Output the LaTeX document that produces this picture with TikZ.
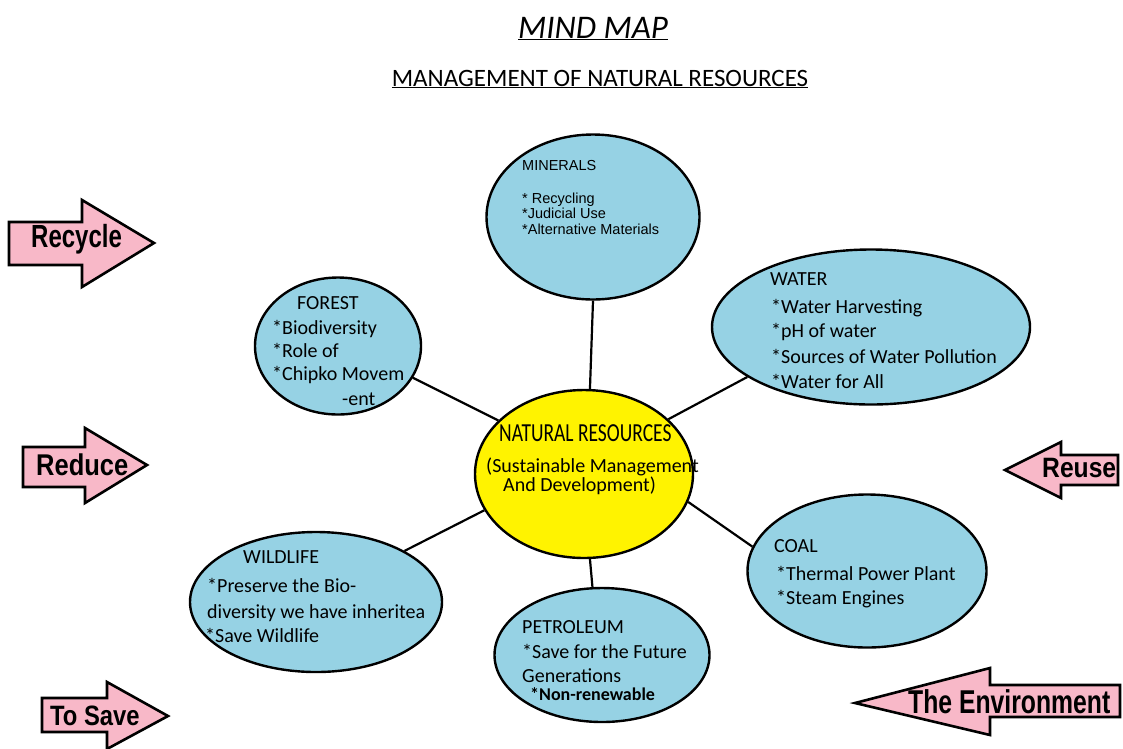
\documentclass[tikz,border=0pt]{standalone}
\usepackage{fontspec}
\setmainfont{Carlito}
\newfontfamily\arialf{Liberation Sans}
\usetikzlibrary{shapes.geometric}
\definecolor{blobblue}{RGB}{150,210,228}
\definecolor{natyellow}{RGB}{255,243,0}
\definecolor{arrpink}{RGB}{248,184,200}
\newcommand{\arrtxt}[3]{\arialf\bfseries\fontsize{#1}{#1}\selectfont\scalebox{#2}[1]{#3}}
\tikzset{
 blob/.style={ellipse, draw=black, line width=2.4pt, fill=blobblue, inner sep=0pt},
 core/.style={blob, fill=natyellow},
 conn/.style={line width=2.2pt, draw=black},
 lbl/.style={anchor=base west, inner sep=0pt, font=\fontsize{20}{24}\selectfont},
 minlbl/.style={anchor=base west, inner sep=0pt, font=\arialf\fontsize{14.5}{17}\selectfont},
 arrshape/.style={draw=black, line width=2.6pt, fill=arrpink, line join=miter},
 arrlbl/.style={anchor=base west, inner sep=0pt},
}
\begin{document}
\begin{tikzpicture}[x=1pt,y=-1pt]
\useasboundingbox (0,0) rectangle (1123,748);
\fill[white] (0,0) rectangle (1123,748);

% titles
\node[anchor=base, inner sep=0pt, font=\itshape\fontsize{33}{36}\selectfont] (title) at (593,38) {\underline{MIND MAP}};
\node[anchor=base, inner sep=0pt, font=\fontsize{25}{28}\selectfont] (subtitle) at (600,86) {\underline{MANAGEMENT OF NATURAL RESOURCES}};

% ellipses
\node[blob, minimum width=213pt, minimum height=165pt] (min) at (593,217) {};
\node[blob, minimum width=318pt, minimum height=155pt] (wat) at (871,327) {};
\node[blob, minimum width=166pt, minimum height=137pt] (for) at (338,346) {};
\node[core, minimum width=218pt, minimum height=168pt] (nat) at (584,474) {};
\node[blob, minimum width=239pt, minimum height=153pt] (coal) at (867,571) {};
\node[blob, minimum width=252pt, minimum height=140pt] (wild) at (316,602) {};
\node[blob, minimum width=215pt, minimum height=134pt] (pet) at (602,655) {};

% connectors
\draw[conn] (nat.86) -- (min.-90);
\draw[conn] (nat.33) -- (wat.-158);
\draw[conn] (nat.148) -- (for.-23);
\draw[conn] (nat.-15) -- (coal.168);
\draw[conn] (nat.-160) -- (wild.30);
\draw[conn] (nat.-86) -- (pet.98);

% minerals text
\node[minlbl] (m1) at (522,170) {MINERALS};
\node[minlbl] (m2) at (522,203) {* Recycling};
\node[minlbl] (m3) at (522,218) {*Judicial Use};
\node[minlbl] (m4) at (522,234) {*Alternative Materials};

% water text
\node[lbl] (w1) at (770,285) {WATER};
\node[lbl] (w2) at (771,313) {*Water Harvesting};
\node[lbl] (w3) at (771,337) {*pH of water};
\node[lbl] (w4) at (771,363) {*Sources of Water Pollution};
\node[lbl] (w5) at (771,388) {*Water for All};

% forest text
\node[lbl] (f1) at (297,309) {FOREST};
\node[lbl] (f2) at (272,334) {*Biodiversity};
\node[lbl] (f3) at (272,357) {*Role of};
\node[lbl] (f4) at (272,380) {*Chipko Movem};
\node[lbl] (f5) at (342,405) {-ent};

% natural resources text
\node[anchor=base west, inner sep=0pt, font=\fontsize{26}{28}\selectfont] (n1) at (499,441) {\scalebox{0.75}[1]{NATURAL RESOURCES}};
\node[lbl] (n2) at (486,472) {(Sustainable Management};
\node[lbl] (n3) at (503,491) {And Development)};

% coal text
\node[lbl] (c1) at (774,552) {COAL};
\node[lbl] (c2) at (776,580) {*Thermal Power Plant};
\node[lbl] (c3) at (776,604) {*Steam Engines};

% wildlife text
\node[lbl] (l1) at (243,563) {WILDLIFE};
\node[lbl] (l2) at (207,592) {*Preserve the Bio-};
\node[lbl] (l3) at (207,618) {diversity we have inheritea};
\node[lbl] (l4) at (205,642) {*Save Wildlife};

% petroleum text
\node[lbl] (p1) at (522,633) {PETROLEUM};
\node[lbl] (p2) at (522,658) {*Save for the Future};
\node[lbl] (p3) at (522,682) {Generations};
\node[lbl, font=\bfseries\fontsize{18}{20}\selectfont] (p4) at (530,700) {*Non-renewable};

% block arrows
\draw[arrshape] (9,222) -- (82,222) -- (82,200) -- (154,243) -- (82,287) -- (82,265) -- (9,265) -- cycle;
\draw[arrshape] (23,447) -- (85,447) -- (85,428) -- (147,465) -- (85,503) -- (85,487) -- (23,487) -- cycle;
\draw[arrshape] (42,698) -- (107,698) -- (107,682) -- (168,716) -- (107,749) -- (107,732) -- (42,732) -- cycle;
\draw[arrshape] (1005,470) -- (1061,442) -- (1061,455) -- (1118,455) -- (1118,485) -- (1061,485) -- (1061,498) -- cycle;
\draw[arrshape] (855,703) -- (990,668) -- (990,685) -- (1120,685) -- (1120,717) -- (990,717) -- (990,735) -- cycle;

\node[arrlbl] (a1) at (31,247) {\arrtxt{32}{0.75}{Recycle}};
\node[arrlbl] (a2) at (36,475) {\arrtxt{30}{0.85}{Reduce}};
\node[arrlbl] (a3) at (50,725) {\arrtxt{28}{0.85}{To Save}};
\node[arrlbl] (a4) at (1042,477) {\arrtxt{28}{0.88}{Reuse}};
\node[arrlbl] (a5) at (908,713) {\arrtxt{33}{0.75}{The Environment}};
\end{tikzpicture}
\end{document}
